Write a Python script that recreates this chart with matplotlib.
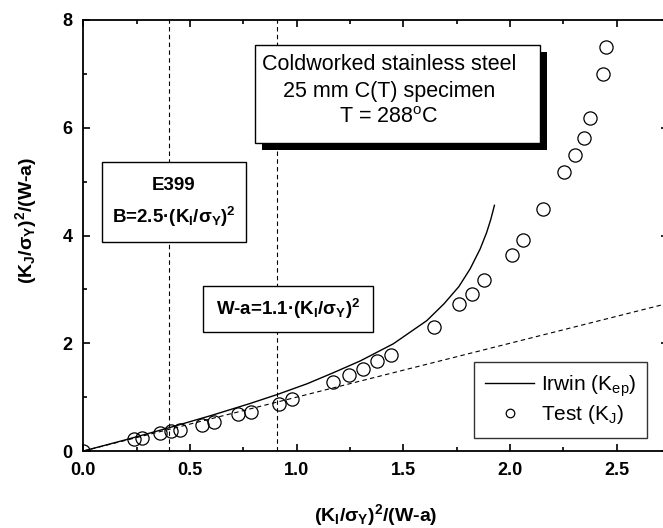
import matplotlib
matplotlib.use('Agg')
import matplotlib.pyplot as plt
from matplotlib import patheffects
from matplotlib.patches import Rectangle
from matplotlib.ticker import MultipleLocator, FormatStrFormatter

plt.rcParams['font.family'] = ['Liberation Sans', 'DejaVu Sans']
plt.rcParams['mathtext.fontset'] = 'custom'
plt.rcParams['mathtext.rm'] = 'Liberation Sans'
plt.rcParams['mathtext.it'] = 'Liberation Sans:italic'
plt.rcParams['mathtext.bf'] = 'Liberation Sans:bold'

# test results, K_J normalised
test_x = [0.0, 0.235, 0.275, 0.36, 0.41, 0.455, 0.555, 0.61, 0.725, 0.785,
          0.915, 0.977, 1.17, 1.243, 1.31, 1.375, 1.44, 1.645, 1.76, 1.82,
          1.88, 2.01, 2.06, 2.155, 2.255, 2.305, 2.345, 2.375, 2.435, 2.45]
test_y = [0.0, 0.22, 0.25, 0.33, 0.37, 0.39, 0.49, 0.54, 0.68, 0.73,
          0.88, 0.97, 1.28, 1.41, 1.52, 1.67, 1.79, 2.30, 2.73, 2.92,
          3.17, 3.63, 3.92, 4.49, 5.17, 5.49, 5.81, 6.19, 6.99, 7.49]

# Irwin plastic-zone corrected K_ep
irwin_x = [0.0, 0.2, 0.4, 0.6, 0.78, 0.91, 1.05, 1.17, 1.297, 1.453, 1.61,
           1.69, 1.76, 1.813, 1.86, 1.89, 1.91, 1.927]
irwin_y = [0.0, 0.21, 0.43, 0.66, 0.88, 1.05, 1.25, 1.45, 1.67, 1.99, 2.42,
           2.73, 3.05, 3.38, 3.75, 4.05, 4.30, 4.56]

# elastic reference K_J = K_I
elastic_x = [0.0, 2.74]
elastic_y = [0.0, 2.74]

# size limits
e399_limit = 1 / 2.5
wa_limit = 1 / 1.1

fig = plt.figure(figsize=(6.63, 5.28), dpi=100)
ax = fig.add_axes([83.4 / 663, 77 / 528, 2.74 * 213.3 / 663, 431 / 528])

dash = (0, (4, 3))
ax.axvline(e399_limit, color='k', lw=0.8, ls=dash)
ax.axvline(wa_limit, color='k', lw=0.8, ls=dash)
ax.plot(elastic_x, elastic_y, color='k', lw=0.8, ls=dash)
ax.plot(irwin_x, irwin_y, color='k', lw=1.0, label='Irwin (K$_\\mathrm{ep}$)')
ax.plot(test_x, test_y, ls='none', marker='o', ms=9.5, mfc='none', mec='k',
        mew=0.9, label='Test (K$_\\mathrm{J}$)')

ax.set_xlim(0, 2.74)
ax.set_ylim(0, 8)
ax.xaxis.set_major_locator(MultipleLocator(0.5))
ax.xaxis.set_minor_locator(MultipleLocator(0.25))
ax.yaxis.set_major_locator(MultipleLocator(2))
ax.yaxis.set_minor_locator(MultipleLocator(1))
ax.xaxis.set_major_formatter(FormatStrFormatter('%.1f'))
ax.tick_params(which='both', direction='in', top=True, right=True, width=1.2)
ax.tick_params(which='major', length=5, labelsize=13, pad=8)
ax.tick_params(which='minor', length=3)
for lab in ax.get_xticklabels() + ax.get_yticklabels():
    lab.set_fontweight('bold')
for sp in ax.spines.values():
    sp.set_linewidth(1.3)

ax.set_xlabel('(K$_\\mathbf{I}$/σ$_\\mathbf{Y}$)$^\\mathbf{2}$/(W-a)',
              fontsize=14, fontweight='bold', va='center')
ax.set_ylabel('(K$_\\mathbf{J}$/σ$_\\mathbf{Y}$)$^\\mathbf{2}$/(W-a)',
              fontsize=14, fontweight='bold', va='center')
ax.xaxis.set_label_coords(0.5, -0.148)
ax.yaxis.set_label_coords(-0.098, 0.534)


def px_box(x0, y0, x1, y1, shadow=False):
    r = Rectangle((x0 / 663, 1 - y1 / 528), (x1 - x0) / 663, (y1 - y0) / 528,
                  transform=fig.transFigure, fc='white', ec='k', lw=1.0,
                  zorder=5)
    if shadow:
        r.set_path_effects([patheffects.SimplePatchShadow(
            offset=(5, -5), shadow_rgbFace='k', alpha=1.0),
            patheffects.Normal()])
    fig.add_artist(r)


px_box(255, 45, 540, 143, shadow=True)
fig.text(389 / 663, 1 - 91 / 528,
         'Coldworked stainless steel\n25 mm C(T) specimen\nT = 288$^\\mathrm{o}$C',
         ha='center', va='center', fontsize=15.5, linespacing=1.35, zorder=6)

px_box(102, 162, 246, 242)
fig.text(174 / 663, 1 - 185 / 528, 'E399', ha='center', va='center',
         fontsize=13.5, fontweight='bold', zorder=6)
fig.text(174 / 663, 1 - 217 / 528,
         'B=2.5·(K$_\\mathbf{I}$/σ$_\\mathbf{Y}$)$^\\mathbf{2}$',
         ha='center', va='center', fontsize=13.5, fontweight='bold', zorder=6)

px_box(203, 286, 373, 332)
fig.text(288 / 663, 1 - 309 / 528,
         'W-a=1.1·(K$_\\mathbf{I}$/σ$_\\mathbf{Y}$)$^\\mathbf{2}$',
         ha='center', va='center', fontsize=13.5, fontweight='bold', zorder=6)

leg = ax.legend(loc='upper left', bbox_to_anchor=(474 / 663, 1 - 362 / 528),
                bbox_transform=fig.transFigure, fontsize=15, frameon=True,
                fancybox=False, edgecolor='k', markerscale=0.65,
                handlelength=2.35, handletextpad=0.3, borderpad=0.55,
                labelspacing=0.2, borderaxespad=0)
leg.get_frame().set_linewidth(1.0)

fig.savefig('out.png', dpi=100)
